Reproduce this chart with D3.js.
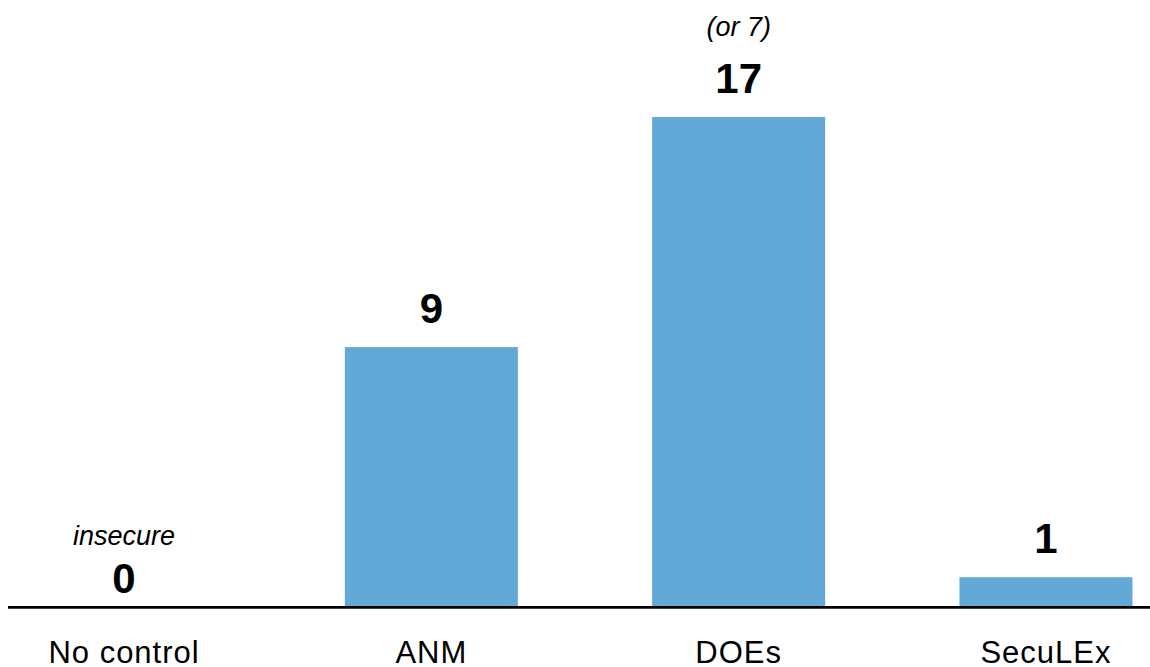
<!DOCTYPE html>
<html><head><meta charset="utf-8">
<script src="https://cdn.jsdelivr.net/npm/d3@7"></script>
<style>html,body{margin:0;padding:0;background:#fff;}svg{display:block;}</style>
</head><body>
<svg id="chart" width="1150" height="667"></svg>
<script>
const categories = ["No control", "ANM", "DOEs", "SecuLEx"];
const values = [0, 9, 17, 1];
const notes = ["insecure", "", "(or 7)", ""];

const svg = d3.select("#chart");
const font = "'Liberation Sans', Arial, sans-serif";

const x = d3.scaleBand().domain(categories).range([-29.6, 1199.6])
  .paddingInner(0.437).paddingOuter(0.2185);
const y = d3.scaleLinear().domain([0, 17]).range([606, 117]);

svg.selectAll("rect.bar").data(categories).join("rect")
  .attr("class", "bar")
  .attr("x", d => x(d))
  .attr("width", x.bandwidth())
  .attr("y", (d, i) => y(values[i]))
  .attr("height", (d, i) => y(0) - y(values[i]))
  .attr("fill", "#62A9D7");

// baseline axis
svg.append("line")
  .attr("x1", 8).attr("x2", 1150)
  .attr("y1", y(0) + 1.3).attr("y2", y(0) + 1.3)
  .attr("stroke", "#000").attr("stroke-width", 2.7);

// value labels
svg.selectAll("text.val").data(categories).join("text")
  .attr("class", "val")
  .attr("x", d => x(d) + x.bandwidth() / 2)
  .attr("y", (d, i) => values[i] === 0 ? y(0) - 13 : y(values[i]) - 24)
  .attr("text-anchor", "middle")
  .attr("font-family", font).attr("font-weight", "bold").attr("font-size", 42)
  .attr("fill", "#000")
  .text((d, i) => values[i]);

// notes (italic)
svg.selectAll("text.note").data(categories).join("text")
  .attr("class", "note")
  .attr("x", d => x(d) + x.bandwidth() / 2)
  .attr("y", (d, i) => values[i] === 0 ? y(0) - 61 : y(values[i]) - 81)
  .attr("text-anchor", "middle")
  .attr("font-family", font).attr("font-style", "italic").attr("font-size", 27)
  .attr("fill", "#000")
  .text((d, i) => notes[i]);

// category labels
svg.selectAll("text.cat").data(categories).join("text")
  .attr("class", "cat")
  .attr("x", d => x(d) + x.bandwidth() / 2)
  .attr("y", 663)
  .attr("text-anchor", "middle")
  .attr("font-family", font).attr("font-size", 31)
  .attr("letter-spacing", "1px")
  .attr("fill", "#000")
  .text(d => d);
</script>
</body></html>
